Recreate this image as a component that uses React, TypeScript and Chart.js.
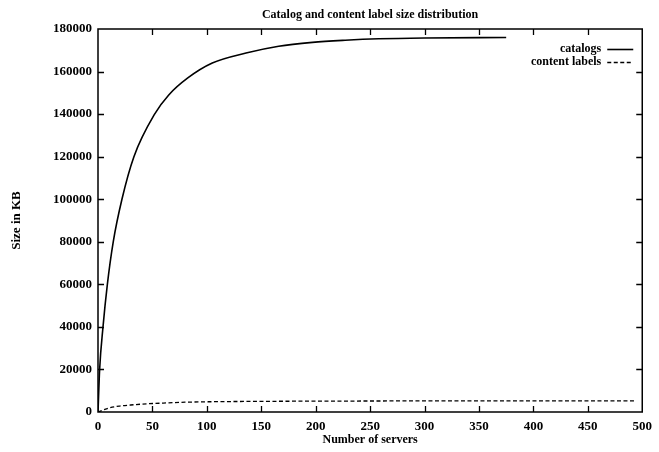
import React, { useEffect, useRef } from 'react';
import { Chart, registerables } from 'chart.js';

Chart.register(...registerables);

const FONT = '"Liberation Serif", "Times New Roman", serif';

const titleText = 'Catalog and content label size distribution';
const xTitle = 'Number of servers';
const yTitle = 'Size in KB';
const seriesNames = ['catalogs', 'content labels'];

const catalogServers = [0, 1.5, 4.6, 8.6, 14, 22, 33, 52, 65, 82.5, 105, 136, 166, 197, 227, 258, 300, 375];
const catalogSize = [0, 20000, 40000, 60000, 80000, 100000, 120000, 140000, 149000, 157000, 164000, 168700, 171900, 173700, 174700, 175400, 175800, 176000];

const labelServers = [0, 5, 10, 20, 30, 40, 60, 80, 100, 150, 200, 300, 400, 494];
const labelSize = [0, 1000, 1900, 2800, 3300, 3700, 4200, 4600, 4800, 5000, 5100, 5200, 5200, 5200];

const xMin = 0, xMax = 500, xStep = 50;
const yMin = 0, yMax = 180000, yStep = 20000;

const framePlugin = {
  id: 'gnuFrame',
  afterDatasetsDraw(chart: any) {
    const { ctx, chartArea: a, scales } = chart;
    ctx.save();
    ctx.strokeStyle = '#000';
    ctx.lineWidth = 1.5;
    ctx.setLineDash([]);
    ctx.strokeRect(a.left, a.top, a.right - a.left, a.bottom - a.top);
    ctx.lineWidth = 1.3;
    const L = 6;
    const xs = scales.x, ys = scales.y;
    xs.ticks.forEach((t: any, i: number) => {
      if (i === 0 || i === xs.ticks.length - 1) return;
      const px = Math.round(xs.getPixelForValue(t.value)) + 0.5;
      ctx.beginPath();
      ctx.moveTo(px, a.bottom); ctx.lineTo(px, a.bottom - L);
      ctx.moveTo(px, a.top); ctx.lineTo(px, a.top + L);
      ctx.stroke();
    });
    ys.ticks.forEach((t: any, i: number) => {
      if (i === 0 || i === ys.ticks.length - 1) return;
      const py = Math.round(ys.getPixelForValue(t.value)) + 0.5;
      ctx.beginPath();
      ctx.moveTo(a.left, py); ctx.lineTo(a.left + L, py);
      ctx.moveTo(a.right, py); ctx.lineTo(a.right - L, py);
      ctx.stroke();
    });
    // legend (gnuplot style: text then sample)
    chart.data.datasets.forEach((ds: any, i: number) => {
      const y = a.top + 20 + 13 * i;
      const sampleEnd = a.right - 9;
      const sampleStart = sampleEnd - 26;
      ctx.font = `bold 12px ${FONT}`;
      ctx.textAlign = 'right';
      ctx.textBaseline = 'middle';
      ctx.fillStyle = '#000';
      ctx.fillText(ds.label, sampleStart - 6, y);
      ctx.setLineDash(ds.borderDash || []);
      ctx.lineWidth = ds.borderWidth;
      ctx.beginPath();
      ctx.moveTo(sampleStart, y + 0.5);
      ctx.lineTo(sampleEnd, y + 0.5);
      ctx.stroke();
    });
    ctx.restore();
  },
};

export default function App() {
  const ref = useRef<HTMLCanvasElement | null>(null);
  useEffect(() => {
    document.body.style.margin = '0';
    const canvas = ref.current;
    if (!canvas) return;
    const chart = new Chart(canvas, {
      type: 'line',
      data: {
        datasets: [
          {
            label: seriesNames[0],
            data: catalogServers.map((x, i) => ({ x, y: catalogSize[i] })),
            borderColor: '#000',
            borderWidth: 1.6,
            pointRadius: 0,
            cubicInterpolationMode: 'monotone',
            fill: false,
          },
          {
            label: seriesNames[1],
            data: labelServers.map((x, i) => ({ x, y: labelSize[i] })),
            borderColor: '#000',
            borderWidth: 1.3,
            borderDash: [4, 2.5],
            pointRadius: 0,
            cubicInterpolationMode: 'monotone',
            fill: false,
          },
        ],
      },
      options: {
        animation: false,
        responsive: false,
        devicePixelRatio: 1,
        layout: { padding: { top: 0, right: 14, left: 0, bottom: 0 } },
        plugins: {
          legend: { display: false },
          tooltip: { enabled: false },
          title: {
            display: true,
            fullSize: false,
            text: titleText,
            color: '#000',
            font: { family: FONT, size: 12, weight: 'bold', lineHeight: 1.2 },
            padding: { top: 8, bottom: 6.6 },
          },
        },
        scales: {
          x: {
            type: 'linear',
            min: xMin,
            max: xMax,
            ticks: {
              stepSize: xStep,
              color: '#000',
              font: { family: FONT, size: 13, weight: 'bold' },
              padding: 7,
              maxRotation: 0,
              callback: (v: any) => String(v),
            },
            grid: { display: false, drawTicks: false },
            border: { display: false },
            title: {
              display: true,
              text: xTitle,
              color: '#000',
              font: { family: FONT, size: 12, weight: 'bold', lineHeight: 1.2 },
              padding: { top: 0, bottom: 5 },
            },
            afterFit: (s: any) => { s.height = 40; },
          },
          y: {
            type: 'linear',
            min: yMin,
            max: yMax,
            ticks: {
              stepSize: yStep,
              color: '#000',
              font: { family: FONT, size: 13, weight: 'bold' },
              padding: 6,
              callback: (v: any) => String(v),
            },
            grid: { display: false, drawTicks: false },
            border: { display: false },
            title: {
              display: true,
              text: yTitle,
              color: '#000',
              font: { family: FONT, size: 13, weight: 'bold', lineHeight: 1.2 },
              padding: { top: 9, bottom: 0 },
            },
            afterFit: (s: any) => { s.width = 98; },
          },
        },
      },
      plugins: [framePlugin],
    } as any);
    return () => chart.destroy();
  }, []);
  return (
    <div style={{ position: 'absolute', left: 0, top: 0, width: 659, height: 452, background: '#fff' }}>
      <canvas ref={ref} width={659} height={452} />
    </div>
  );
}
